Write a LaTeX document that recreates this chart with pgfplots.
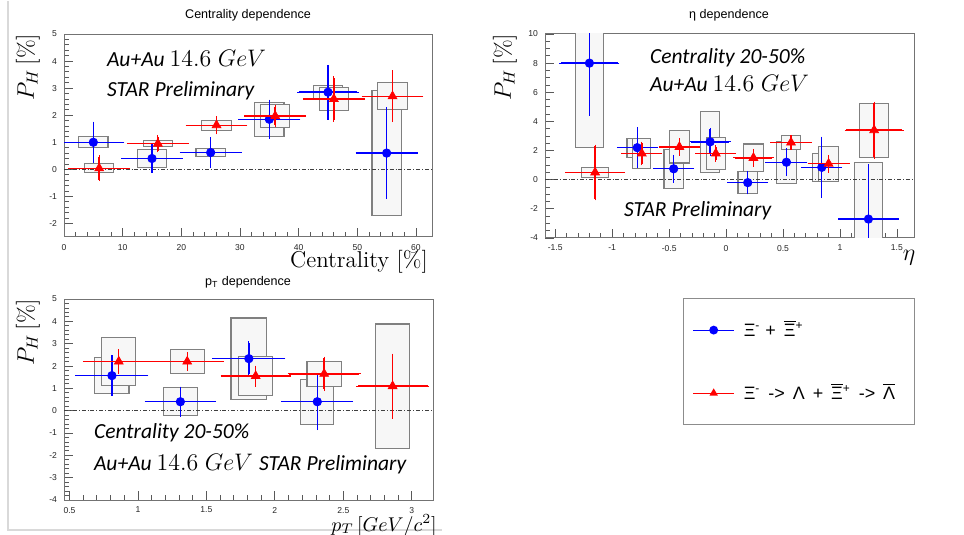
\documentclass[border=0pt]{standalone}
\usepackage{fontspec}
\setsansfont{Liberation Sans}
\newfontfamily\carl{Carlito}
\usepackage{pgfplots}
\pgfplotsset{compat=1.18}
\usepackage{pgfplotstable}

\definecolor{rootblue}{HTML}{0000FF}
\definecolor{rootred}{HTML}{FF0000}
\definecolor{boxfill}{HTML}{F7F7F7}
\definecolor{boxline}{HTML}{808080}

% x y ex ey sx sy  (sx, sy: half sizes of the systematic boxes)
\pgfplotstableread{
x y ex ey sx sy
5 1.0 5 0.7 2.5 0.2
15 0.4 5 0.47 2.5 0.33
25 0.62 5 0.5 2.5 0.15
35 1.85 5 0.67 2.5 0.63
45 2.85 5 0.95 2.5 0.25
55 0.6 5 1.64 2.5 2.3
}\tabAb
\pgfplotstableread{
x y ex ey sx sy
6 0.04 5 0.42 2.5 0.16
16 0.95 5 0.26 2.5 0.11
26 1.63 5 0.28 2.5 0.18
36 1.97 5 0.35 2.5 0.42
46 2.6 5 0.78 2.5 0.42
56 2.7 5 0.9 2.5 0.5
}\tabAr
\pgfplotstableread{
x y ex ey sx sy
-1.2 8.0 0.25 3.5 0.125 5.8
-0.78 2.2 0.165 1.3 0.09 0.65
-0.46 0.75 0.165 0.85 0.085 1.35
-0.14 2.6 0.165 0.85 0.085 2.1
0.19 -0.2 0.165 0.7 0.085 0.75
0.53 1.2 0.17 0.85 0.085 1.45
0.84 0.85 0.165 2.0 0.085 0.95
1.25 -2.7 0.25 3.65 0.125 3.9
}\tabBb
\pgfplotstableread{
x y ex ey sx sy
-1.15 0.5 0.25 1.8 0.12 0.35
-0.74 1.8 0.165 0.7 0.08 1.05
-0.41 2.25 0.165 0.5 0.085 1.1
-0.09 1.8 0.165 0.45 0.085 1.1
0.24 1.5 0.165 0.5 0.085 0.95
0.57 2.55 0.17 0.4 0.085 0.5
0.9 1.1 0.17 0.5 0.085 1.2
1.3 3.4 0.245 1.85 0.125 1.85
}\tabBr
\pgfplotstableread{
x y ex ey sx sy
0.81 1.57 0.255 0.83 0.125 0.8
1.31 0.4 0.25 0.6 0.125 0.63
1.81 2.33 0.255 0.7 0.13 1.82
2.31 0.4 0.25 1.2 0.12 1.0
}\tabCb
\pgfplotstableread{
x y ex ey sx sy
0.86 2.2 0.25 0.48 0.125 1.07
1.36 2.2 0.255 0.34 0.125 0.54
1.86 1.55 0.245 0.4 0.125 0.87
2.36 1.65 0.255 0.7 0.125 0.55
2.86 1.1 0.255 1.38 0.125 2.78
}\tabCr

\pgfplotsset{
  rootframe/.style={
    scale only axis, width=184.5bp,
    axis line style={black!55, line width=0.5bp},
    tick align=inside, xtick pos=left, ytick pos=left,
    tick style={black!65, line width=0.4bp},
    major tick length=4.5bp, minor tick length=2.3bp,
    tick label style={font=\sffamily\fontsize{4.3}{5}\selectfont, text=black!85},
    /pgf/number format/assume math mode=true,
    clip marker paths=true,
  },
  sysbox/.style={
    scatter, only marks, mark=*, mark size=0pt, forget plot,
    mark options={draw=none, fill=none},
    visualization depends on={\thisrow{sx}\as\bsx},
    visualization depends on={\thisrow{sy}\as\bsy},
    scatter/@pre marker code/.code={%
      \pgfplotspointaxisdirectionxy{\bsx}{\bsy}%
      \pgfgetlastxy{\bdx}{\bdy}%
      \path[fill=boxfill, draw=boxline, line width=0.55bp]
        (-\bdx,-\bdy) rectangle (\bdx,\bdy);
      \begin{scope}
    },
    scatter/@post marker code/.code={\end{scope}},
  },
  zeroline/.style={black!75, line width=0.4bp, dash pattern=on 2bp off 1bp on 0.4bp off 1bp, forget plot},
  errxy/.style={
    error bars/x dir=both, error bars/x explicit,
    error bars/y dir=both, error bars/y explicit,
    error bars/error bar style={line width=0.7bp, draw=#1},
    error bars/error mark options={draw=#1, mark size=0.8bp, line width=0.6bp}},
  bluepts/.style={only marks, mark=*, mark size=2.1bp, rootblue, errxy=rootblue},
  redpts/.style={only marks, mark=triangle*, mark size=2.5bp, rootred, errxy=rootred},
  blueleg/.style={legend image code/.code={
    \draw[rootblue, line width=0.6bp] (0bp,0bp) -- (20.5bp,0bp);
    \draw[##1, mark size=1.9bp] plot coordinates {(10.25bp,0bp)};}},
  redleg/.style={legend image code/.code={
    \draw[rootred, line width=0.6bp] (0bp,0bp) -- (20.5bp,0bp);
    \draw[##1, mark size=1.8bp] plot coordinates {(10.25bp,0bp)};}},
}

\newcommand\barXi{$\overline{\mbox{Ξ}}$}
\newcommand\barLa{$\overline{\mbox{Λ}}$}

\begin{document}
\begin{tikzpicture}
\path[use as bounding box] (0,0) rectangle (482bp,267.5bp);
\draw[black!15, line width=0.6bp] (4bp,267bp) -- (4bp,2.5bp) -- (221bp,2.5bp);

% centrality dependence
\begin{axis}[rootframe, at={(32bp,149bp)}, anchor=south west, height=101.5bp,
  xmin=0, xmax=62.9, ymin=-2.5, ymax=5,
  xtick={0,10,...,60}, ytick={-2,-1,...,5},
  minor x tick num=4, minor y tick num=4,
  legend cell align=left,
  legend style={at={(1.6775,-0.3005)}, anchor=north west,
    draw=black!45, line width=0.6bp, fill=white,
    font=\sffamily\fontsize{9}{10}\selectfont,
    inner xsep=4.5bp, inner ysep=0pt, row sep=0pt,
    nodes={minimum height=31.5bp, inner sep=0pt},
    /tikz/every odd column/.append style={column sep=4.5bp}},
]
\addplot[sysbox] table {\tabAb};
\addplot[sysbox] table {\tabAr};
\addplot[zeroline] coordinates {(0,0) (62.9,0)};
\addplot[bluepts, blueleg] table[x=x, y=y, x error=ex, y error=ey] {\tabAb};
\addlegendentry{\makebox[81bp][l]{Ξ\textsuperscript{-}\ +\ \,\barXi\textsuperscript{+}}}
\addplot[redpts, redleg] table[x=x, y=y, x error=ex, y error=ey] {\tabAr};
\addlegendentry{\makebox[81bp][l]{Ξ\textsuperscript{-}\ \,->\ \,Λ\ \,+\ \,\barXi\textsuperscript{+}\ \,->\ \,\barLa}}
\end{axis}

% eta dependence
\begin{axis}[rootframe, at={(272.5bp,148.5bp)}, anchor=south west, height=102bp,
  xmin=-1.59, xmax=1.65, ymin=-4, ymax=10,
  xtick={-1.5,-1,...,1.5}, ytick={-4,-2,...,10},
  minor x tick num=4, minor y tick num=3,
]
\addplot[sysbox] table {\tabBb};
\addplot[sysbox] table {\tabBr};
\addplot[zeroline] coordinates {(-1.59,0) (1.65,0)};
\addplot[bluepts] table[x=x, y=y, x error=ex, y error=ey] {\tabBb};
\addplot[redpts] table[x=x, y=y, x error=ex, y error=ey] {\tabBr};
\end{axis}

% pT dependence
\begin{axis}[rootframe, at={(32bp,17.5bp)}, anchor=south west, height=100.5bp,
  xmin=0.46, xmax=3.155, ymin=-4, ymax=5,
  xtick={0.5,1,...,3}, ytick={-4,-3,...,5},
  minor x tick num=4, minor y tick num=4,
]
\addplot[sysbox] table {\tabCb};
\addplot[sysbox] table {\tabCr};
\addplot[zeroline] coordinates {(0.46,0) (3.155,0)};
\addplot[bluepts] table[x=x, y=y, x error=ex, y error=ey] {\tabCb};
\addplot[redpts] table[x=x, y=y, x error=ex, y error=ey] {\tabCr};
\end{axis}

% titles
\node[font=\sffamily\fontsize{6.3}{7}\selectfont] at (124bp,260bp) {Centrality dependence};
\node[font=\sffamily\fontsize{6.3}{7}\selectfont] at (364.5bp,260bp) {η dependence};
\node[font=\sffamily\fontsize{6.3}{7}\selectfont] at (124bp,126.5bp) {p\textsubscript{T} dependence};

% axis labels
\node[rotate=90, font=\fontsize{11.5}{13}\selectfont] at (14bp,234bp) {$P_H\,[\%]$};
\node[rotate=90, font=\fontsize{11.5}{13}\selectfont] at (252.5bp,234bp) {$P_H\,[\%]$};
\node[rotate=90, font=\fontsize{11.5}{13}\selectfont] at (14bp,101.5bp) {$P_H\,[\%]$};
\node[font=\fontsize{11.5}{13}\selectfont] at (179.5bp,136.5bp) {Centrality [\%]};
\node[font=\fontsize{13}{14}\selectfont] at (454.5bp,138.5bp) {$\eta$};
\node[font=\fontsize{10}{12}\selectfont, anchor=base, inner sep=0pt] at (192bp,2bp) {$p_T\,[GeV/c^2]$};

% annotations
\tikzset{ann/.style={anchor=west, font=\carl\itshape\fontsize{10.8}{12}\selectfont}}
\node[ann] at (50bp,238.5bp) {Au+Au {\fontsize{12}{14}\selectfont$14.6\;GeV$}};
\node[ann] at (50bp,222bp) {STAR Preliminary};
\node[ann] at (321.5bp,238.5bp) {Centrality 20-50\%};
\node[ann] at (321.5bp,226bp) {Au+Au {\fontsize{12}{14}\selectfont$14.6\;GeV$}};
\node[ann] at (308.5bp,162bp) {STAR Preliminary};
\node[ann] at (43.5bp,51bp) {Centrality 20-50\%};
\node[ann] at (43.5bp,36.5bp) {Au+Au {\fontsize{12}{14}\selectfont$14.6\;GeV$}};
\node[ann] at (126bp,35bp) {STAR Preliminary};
\end{tikzpicture}
\end{document}
